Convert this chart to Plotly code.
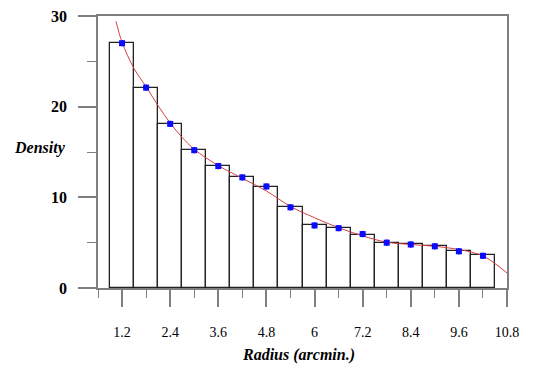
import plotly.graph_objects as go

# bar centres (radius, arcmin) and heights
radius = [1.2, 1.8, 2.4, 3.0, 3.6, 4.2, 4.8, 5.4, 6.0, 6.6, 7.2, 7.8, 8.4, 9.0, 9.6, 10.2]
bar_density = [27.0, 22.1, 18.1, 15.2, 13.5, 12.2, 11.1, 8.9, 6.9, 6.6, 5.9, 5.0, 4.8, 4.6, 4.1, 3.6]

# observed points (blue) with small error bars
point_density = [27.0, 22.1, 18.1, 15.2, 13.45, 12.2, 11.2, 8.9, 6.9, 6.6, 5.95, 5.0, 4.8, 4.6, 4.05, 3.55]
point_err = [0.35] * 16

# fitted profile (red)
fit_r = [1.05, 1.2, 1.5, 1.8, 2.1, 2.4, 2.7, 3.0, 3.6, 4.2, 4.8, 5.4, 6.0, 6.6, 7.2, 7.8,
         8.4, 9.0, 9.6, 10.0, 10.2, 10.5, 10.8]
fit_density = [29.4, 27.1, 24.2, 22.2, 20.1, 18.2, 16.6, 15.3, 13.5, 12.1, 10.7, 9.0, 7.75,
               6.65, 5.75, 5.05, 4.8, 4.6, 4.25, 3.85, 3.55, 2.7, 1.65]

x_ticks = [1.2, 2.4, 3.6, 4.8, 6, 7.2, 8.4, 9.6, 10.8]
x_ticklabels = ["1.2", "2.4", "3.6", "4.8", "6", "7.2", "8.4", "9.6", "10.8"]

serif = "Liberation Serif, Times New Roman, serif"
axis_grey = "#7f7f7f"

fig = go.Figure()

fig.add_trace(go.Bar(
    x=radius, y=bar_density, width=0.6,
    marker=dict(color="white", line=dict(color="#222222", width=1.3)),
    hoverinfo="skip",
))

fig.add_trace(go.Scatter(
    x=fit_r, y=fit_density, mode="lines",
    line=dict(color="#d9403f", width=1, shape="spline", smoothing=1.0),
))

fig.add_trace(go.Scatter(
    x=radius, y=point_density, mode="markers",
    marker=dict(symbol="square", size=6, color="#0a0aff"),
    error_y=dict(type="data", array=point_err, color="#0a0aff", thickness=1.5, width=0),
))

# page body has an 8px margin, so the figure is a bit smaller than the window
fig.update_layout(
    width=537, height=375,
    margin=dict(l=90, r=38, t=8, b=95),
    paper_bgcolor="white", plot_bgcolor="white",
    showlegend=False,
    bargap=0,
    font=dict(family=serif, color="black"),
)

fig.update_xaxes(
    range=[0.6, 10.8], automargin=False,
    tickvals=x_ticks, ticktext=x_ticklabels,
    ticks="outside", ticklen=17, tickwidth=1.5, tickcolor=axis_grey,
    minor=dict(tickvals=[0.6 + 1.2 * k for k in range(9)], ticks="outside",
               ticklen=8, tickwidth=1.2, tickcolor=axis_grey, showgrid=False),
    ticklabelstandoff=13,
    tickfont=dict(size=14, family=serif),
    showline=True, linecolor=axis_grey, linewidth=1.5, mirror=True,
    showgrid=False, zeroline=False,
)

fig.update_yaxes(
    range=[0, 30], automargin=False,
    tickvals=[0, 10, 20, 30],
    ticks="outside", ticklen=18, tickwidth=1.5, tickcolor=axis_grey,
    minor=dict(tickvals=[5, 15, 25], ticks="outside", ticklen=9, tickwidth=1.2,
               tickcolor=axis_grey, showgrid=False),
    ticklabelstandoff=8, ticklabeloverflow="allow",
    tickfont=dict(size=16, family="Liberation Serif", weight="bold"),
    showline=True, linecolor=axis_grey, linewidth=1.5, mirror=True,
    showgrid=False, zeroline=False,
)

fig.add_annotation(
    text="<b><i>Density</i></b>", xref="paper", yref="paper",
    x=-0.142, y=0.515, xanchor="center", yanchor="middle", showarrow=False,
    font=dict(size=16, family=serif),
)
fig.add_annotation(
    text="<b><i>Radius (arcmin.)</i></b>", xref="paper", yref="paper",
    x=0.489, y=-0.245, xanchor="center", yanchor="middle", showarrow=False,
    font=dict(size=16, family=serif),
)

fig.write_html("out.html")
